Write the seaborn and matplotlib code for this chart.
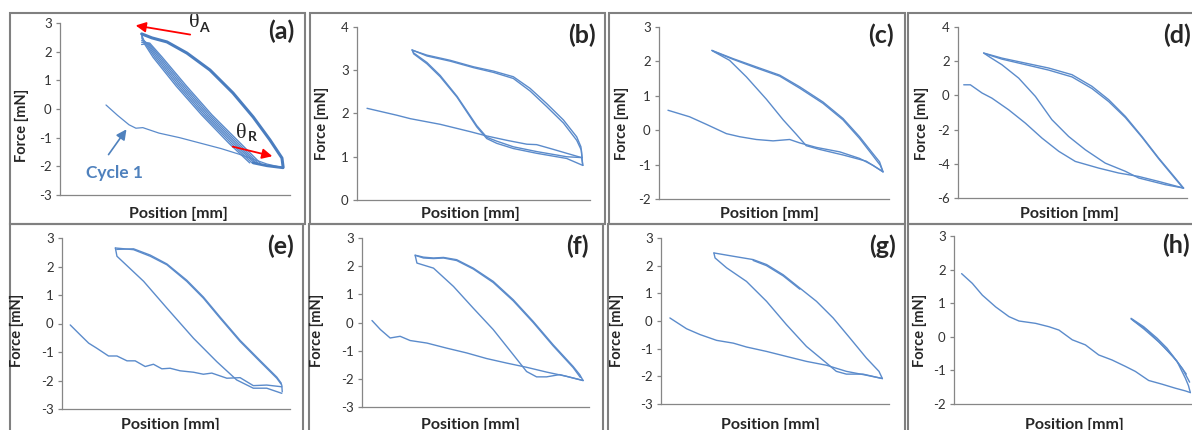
"""Force vs position hysteresis loops, panels (a)-(h)."""
import matplotlib

matplotlib.use("Agg")
import matplotlib.pyplot as plt
import pandas as pd
import seaborn as sns
from matplotlib.patches import Rectangle

# --- data (position is in relative units 0..1, force in mN) -----------------
# (a)
A_APP_X = [0.20, 0.25, 0.30, 0.33, 0.36, 0.43, 0.52, 0.61, 0.70, 0.78, 0.84, 0.90, 0.97]
A_APP_Y = [0.14, -0.22, -0.55, -0.67, -0.65, -0.84, -1.00, -1.19, -1.38, -1.58, -1.75, -1.92, -2.05]
A_UP_X = [0.355, 0.40, 0.465, 0.552, 0.652, 0.752, 0.840, 0.913, 0.965, 0.970]
A_UP_Y = [2.62, 2.48, 2.34, 1.95, 1.36, 0.56, -0.28, -1.08, -1.71, -2.02]
A_BOT_X = [0.97, 0.90, 0.84]
A_BOT_Y = [-2.05, -1.98, -1.88]
A_DIAG_Y = [-1.88, -1.20, -0.20, 0.80, 1.80, 2.30]
A_DIAG1_X = [0.825, 0.735, 0.615, 0.505, 0.405, 0.365]
A_DIAG2_X = [0.835, 0.745, 0.624, 0.514, 0.413, 0.370]
A_DIAG3_X = [0.845, 0.755, 0.633, 0.523, 0.421, 0.375]
A_DIAG4_X = [0.852, 0.765, 0.642, 0.532, 0.429, 0.380]
A_DIAG5_X = [0.860, 0.775, 0.651, 0.541, 0.437, 0.385]
A_DIAG6_X = [0.870, 0.785, 0.660, 0.550, 0.445, 0.390]
A_TOPS_Y = [2.62, 2.55, 2.48, 2.40, 2.33, 2.25]

# (b)
B_APP_X = [0.043, 0.171, 0.229, 0.357, 0.486, 0.557, 0.643, 0.729, 0.771, 0.843, 0.900, 0.964, 0.969]
B_APP_Y = [2.12, 1.96, 1.88, 1.75, 1.58, 1.48, 1.38, 1.29, 1.28, 1.17, 1.08, 0.98, 0.80]
B_RET_X = [0.969, 0.900, 0.771, 0.671, 0.600, 0.557, 0.514, 0.429, 0.357, 0.300, 0.243, 0.239]
B_RET_Y = [0.80, 0.96, 1.08, 1.19, 1.31, 1.42, 1.69, 2.38, 2.85, 3.15, 3.38, 3.46]
B_UP_X = [0.239, 0.300, 0.400, 0.500, 0.586, 0.671, 0.743, 0.814, 0.886, 0.943, 0.961, 0.969]
B_UP_Y = [3.46, 3.35, 3.23, 3.08, 2.98, 2.85, 2.58, 2.23, 1.85, 1.46, 1.23, 0.80]
B_RET2_X = [0.966, 0.900, 0.771, 0.671, 0.600, 0.557, 0.514, 0.429, 0.357, 0.300, 0.243, 0.236]
B_RET2_Y = [0.98, 1.00, 1.12, 1.23, 1.36, 1.45, 1.72, 2.40, 2.88, 3.18, 3.40, 3.47]
B_UP2_X = [0.236, 0.300, 0.400, 0.500, 0.586, 0.671, 0.743, 0.814, 0.886, 0.943, 0.963, 0.966]
B_UP2_Y = [3.47, 3.33, 3.21, 3.06, 2.95, 2.81, 2.52, 2.16, 1.78, 1.38, 1.15, 0.98]

# (c)
C_APP_X = [0.039, 0.133, 0.206, 0.293, 0.351, 0.423, 0.496, 0.532, 0.568, 0.612, 0.684, 0.786, 0.872, 0.930, 0.974]
C_APP_Y = [0.58, 0.39, 0.17, -0.10, -0.19, -0.27, -0.31, -0.29, -0.27, -0.37, -0.50, -0.63, -0.82, -1.02, -1.21]
C_RET_X = [0.974, 0.901, 0.800, 0.699, 0.640, 0.597, 0.540, 0.467, 0.380, 0.307, 0.242, 0.230]
C_RET_Y = [-1.21, -0.90, -0.72, -0.56, -0.45, -0.12, 0.30, 0.90, 1.55, 2.03, 2.27, 2.32]
C_UP_X = [0.230, 0.322, 0.423, 0.525, 0.612, 0.713, 0.800, 0.872, 0.930, 0.959, 0.974]
C_UP_Y = [2.32, 2.08, 1.84, 1.60, 1.26, 0.82, 0.34, -0.19, -0.68, -0.92, -1.21]
C_UP2_X = [0.235, 0.322, 0.423, 0.525, 0.612, 0.713, 0.800, 0.872, 0.930, 0.962, 0.972]
C_UP2_Y = [2.30, 2.06, 1.81, 1.57, 1.22, 0.78, 0.30, -0.24, -0.74, -1.02, -1.18]

# (d)
D_APP_X = [0.025, 0.054, 0.105, 0.148, 0.221, 0.294, 0.367, 0.440, 0.512, 0.614, 0.702, 0.789, 0.876, 0.985]
D_APP_Y = [0.62, 0.62, 0.14, -0.16, -0.84, -1.62, -2.50, -3.27, -3.86, -4.25, -4.54, -4.74, -5.03, -5.42]
D_RET_X = [0.985, 0.905, 0.789, 0.731, 0.643, 0.556, 0.483, 0.410, 0.338, 0.265, 0.192, 0.134, 0.112]
D_RET_Y = [-5.42, -5.22, -4.83, -4.44, -3.96, -3.18, -2.40, -1.42, -0.06, 1.01, 1.79, 2.28, 2.48]
D_UP_X = [0.112, 0.192, 0.294, 0.396, 0.498, 0.585, 0.658, 0.731, 0.803, 0.876, 0.949, 0.985]
D_UP_Y = [2.48, 2.18, 1.89, 1.60, 1.21, 0.53, -0.25, -1.23, -2.40, -3.66, -4.83, -5.42]
D_UP2_X = [0.118, 0.192, 0.294, 0.396, 0.498, 0.585, 0.658, 0.731, 0.803, 0.876, 0.949, 0.982]
D_UP2_Y = [2.44, 2.12, 1.80, 1.48, 1.08, 0.40, -0.36, -1.30, -2.44, -3.70, -4.88, -5.40]

# (e)
E_APP_X = [0.036, 0.080, 0.117, 0.153, 0.204, 0.241, 0.285, 0.321, 0.365, 0.401, 0.438, 0.474,
           0.518, 0.577, 0.620, 0.657, 0.723, 0.781, 0.839, 0.898, 0.964]
E_APP_Y = [-0.05, -0.40, -0.69, -0.87, -1.14, -1.14, -1.31, -1.31, -1.51, -1.43, -1.59, -1.57,
           -1.66, -1.71, -1.78, -1.74, -1.92, -1.90, -2.18, -2.16, -2.22]
E_RET_X = [0.964, 0.898, 0.839, 0.766, 0.679, 0.577, 0.460, 0.358, 0.241, 0.234]
E_RET_Y = [-2.45, -2.27, -2.27, -1.98, -1.34, -0.52, 0.54, 1.48, 2.36, 2.65]
E_UP_X = [0.234, 0.314, 0.387, 0.460, 0.547, 0.620, 0.693, 0.781, 0.869, 0.942, 0.964, 0.966]
E_UP_Y = [2.65, 2.59, 2.36, 2.06, 1.48, 0.89, 0.19, -0.63, -1.34, -1.92, -2.16, -2.40]
E_UP2_X = [0.240, 0.314, 0.387, 0.460, 0.547, 0.620, 0.693, 0.781, 0.869, 0.942, 0.962]
E_UP2_Y = [2.60, 2.62, 2.40, 2.09, 1.52, 0.93, 0.23, -0.59, -1.30, -1.88, -2.10]

# (f)
F_APP_X = [0.044, 0.081, 0.124, 0.168, 0.212, 0.286, 0.373, 0.461, 0.549, 0.637, 0.725, 0.813, 0.900, 0.974]
F_APP_Y = [0.07, -0.25, -0.55, -0.49, -0.64, -0.73, -0.91, -1.08, -1.28, -1.44, -1.59, -1.76, -1.91, -2.06]
F_RET_X = [0.974, 0.871, 0.813, 0.769, 0.725, 0.666, 0.578, 0.490, 0.403, 0.315, 0.242, 0.234]
F_RET_Y = [-2.06, -1.85, -1.93, -1.93, -1.74, -1.14, -0.25, 0.51, 1.28, 1.93, 2.11, 2.39]
F_UP_X = [0.234, 0.271, 0.315, 0.359, 0.417, 0.490, 0.578, 0.666, 0.754, 0.842, 0.930, 0.959, 0.974]
F_UP_Y = [2.39, 2.32, 2.29, 2.31, 2.23, 1.93, 1.46, 0.81, 0.04, -0.79, -1.56, -1.85, -2.06]
F_UP2_X = [0.240, 0.271, 0.315, 0.359, 0.417, 0.490, 0.578, 0.666, 0.754, 0.842, 0.930, 0.962]
F_UP2_Y = [2.37, 2.29, 2.27, 2.29, 2.20, 1.90, 1.42, 0.77, 0.00, -0.83, -1.60, -1.95]

# (g)
G_APP_X = [0.039, 0.112, 0.171, 0.244, 0.317, 0.375, 0.463, 0.550, 0.638, 0.726, 0.813, 0.901, 0.971]
G_APP_Y = [0.11, -0.28, -0.49, -0.70, -0.80, -0.94, -1.10, -1.28, -1.46, -1.60, -1.82, -1.96, -2.08]
G_RET_X = [0.971, 0.886, 0.813, 0.769, 0.726, 0.638, 0.550, 0.463, 0.375, 0.288, 0.237, 0.232]
G_RET_Y = [-2.08, -1.92, -1.92, -1.82, -1.52, -0.92, -0.13, 0.71, 1.43, 1.92, 2.28, 2.46]
G_UP_X = [0.232, 0.317, 0.404, 0.463, 0.536, 0.609, 0.682, 0.755, 0.828, 0.901, 0.956, 0.971]
G_UP_Y = [2.46, 2.34, 2.22, 2.04, 1.67, 1.19, 0.71, 0.11, -0.61, -1.34, -1.82, -2.08]
G_UP2_X = [0.404, 0.463, 0.536, 0.609]
G_UP2_Y = [2.19, 2.00, 1.63, 1.15]

# (h)
H_APP_X = [0.032, 0.077, 0.119, 0.175, 0.231, 0.273, 0.343, 0.399, 0.441, 0.497, 0.552, 0.608, 0.664,
           0.720, 0.762, 0.818, 0.874, 0.930, 0.972, 0.993]
H_APP_Y = [1.88, 1.59, 1.24, 0.89, 0.60, 0.47, 0.40, 0.30, 0.20, -0.09, -0.24, -0.54, -0.69,
           -0.88, -1.03, -1.30, -1.41, -1.53, -1.61, -1.66]
H_RET_X = [0.993, 0.985, 0.972, 0.937, 0.895, 0.853, 0.797, 0.744]
H_RET_Y = [-1.66, -1.45, -1.23, -0.73, -0.34, -0.04, 0.30, 0.55]
H_UP_X = [0.744, 0.811, 0.881, 0.937, 0.976]
H_UP_Y = [0.53, 0.20, -0.29, -0.73, -1.11]
H_UP2_X = [0.750, 0.800, 0.860, 0.920, 0.960, 0.990]
H_UP2_Y = [0.50, 0.22, -0.15, -0.58, -0.95, -1.35]

PANEL_LABELS = ["(a)", "(b)", "(c)", "(d)", "(e)", "(f)", "(g)", "(h)"]
Y_LIMITS = [(-3, 3), (0, 4), (-2, 3), (-6, 4), (-3, 3), (-3, 3), (-3, 3), (-2, 3)]
Y_STEPS = [1, 1, 1, 2, 1, 1, 1, 1]
# -----------------------------------------------------------------------------

W, H = 1192, 430
LINE = "#5B8BCB"
GRID = "#868686"

sns.set_style("white")
plt.rcParams["font.family"] = ["Lato", "DejaVu Sans"]
plt.rcParams["axes.unicode_minus"] = False

fig = plt.figure(figsize=(W / 100, H / 100), dpi=100)

# panel frames (pixel boxes)
frames = [(10, 13, 305, 224), (310, 13, 605, 224), (609, 13, 905, 224), (908, 13, 1200, 224),
          (10, 224, 303, 440), (309, 224, 603, 440), (608, 224, 905, 440), (908, 224, 1200, 440)]
for x0, y0, x1, y1 in frames:
    fig.add_artist(Rectangle((x0 / W, 1 - y1 / H), (x1 - x0) / W, (y1 - y0) / H,
                             transform=fig.transFigure, fill=False, ec="#808080", lw=1.5))

# axes boxes: left, right, top, bottom (pixels)
boxes = [(60, 290, 23, 195), (357, 590, 27, 200), (659, 889, 27, 199), (958, 1187, 27, 198),
         (62, 290, 238, 409), (362, 589, 238, 407), (661, 889, 238, 404), (954, 1192, 236, 404)]
force_pos = [(22, 125), (322, 123), (622, 123), (922, 123),
             (17, 330), (317, 330), (617, 330), (920, 330)]
pos_pos = [(178, 214), (470, 214), (769, 214), (1069, 214),
           (170, 425), (470, 425), (770, 425), (1074, 425)]
label_pos = [(294, 31), (596, 35), (894, 35), (1191, 35),
             (294, 246), (589, 246), (896, 246), (1190, 245)]


def draw(ax, xs, ys, lw=1.0, color=LINE):
    df = pd.DataFrame({"x": xs, "y": ys})
    sns.lineplot(data=df, x="x", y="y", sort=False, estimator=None, ax=ax,
                 color=color, lw=lw)


axes = []
for i, (l, r, t, b) in enumerate(boxes):
    ax = fig.add_axes([l / W, 1 - b / H, (r - l) / W, (b - t) / H])
    ax.patch.set_alpha(0)
    lo, hi = Y_LIMITS[i]
    ax.set_xlim(0, 1)
    ax.set_ylim(lo, hi)
    ax.set_yticks(range(lo, hi + 1, Y_STEPS[i]))
    ax.set_xticks([])
    for s in ["top", "right"]:
        ax.spines[s].set_visible(False)
    for s in ["left", "bottom"]:
        ax.spines[s].set_color(GRID)
        ax.spines[s].set_linewidth(0.9)
    ax.tick_params(axis="y", length=3, width=0.9, color=GRID, labelsize=9.5,
                   labelcolor="#333333", pad=3, left=True)
    axes.append(ax)
    fig.text(force_pos[i][0] / W, 1 - force_pos[i][1] / H, "Force [mN]", rotation=90,
             ha="center", va="center", fontsize=10.5, fontweight="bold")
    fig.text(pos_pos[i][0] / W, 1 - pos_pos[i][1] / H, "Position [mm]",
             ha="center", va="center", fontsize=11.5, fontweight="bold")
    fig.text(label_pos[i][0] / W, 1 - label_pos[i][1] / H, PANEL_LABELS[i],
             ha="right", va="center", fontsize=18, fontweight="bold")

# (a)
ax = axes[0]
draw(ax, A_APP_X, A_APP_Y, lw=0.9)
for dx, top in zip([A_DIAG1_X, A_DIAG2_X, A_DIAG3_X, A_DIAG4_X, A_DIAG5_X, A_DIAG6_X], A_TOPS_Y):
    draw(ax, dx + [A_UP_X[0]], A_DIAG_Y + [top], lw=1.0)
draw(ax, A_UP_X, A_UP_Y, lw=2.2, color="#4A7DBF")
draw(ax, A_BOT_X, A_BOT_Y, lw=2.0, color="#4A7DBF")

red = dict(arrowstyle="-|>,head_length=0.6,head_width=0.3", color="#FF0000", lw=1.3)
ax.annotate("", xy=(0.317, 2.93), xytext=(0.578, 2.58), arrowprops=red, annotation_clip=False)
ax.annotate("", xy=(0.935, -1.67), xytext=(0.739, -1.29), arrowprops=red, annotation_clip=False)
ax.text(0.584, 3.03, "θ", fontsize=16, family="Liberation Serif", ha="center", va="center",
        clip_on=False)
ax.text(0.627, 2.83, "A", fontsize=10, fontweight="bold", ha="center", va="center",
        clip_on=False)
ax.text(0.79, -0.84, "θ", fontsize=16, family="Liberation Serif", ha="center", va="center")
ax.text(0.835, -0.98, "R", fontsize=10, fontweight="bold", ha="center", va="center")
ax.text(0.235, -2.23, "Cycle 1", fontsize=12.5, fontweight="bold", color="#4F81BD",
        ha="center", va="center")
ax.annotate("", xy=(0.296, -0.63), xytext=(0.204, -1.67),
            arrowprops=dict(arrowstyle="-|>,head_length=0.6,head_width=0.3",
                            color="#4F81BD", lw=1.2))

# (b)-(h)
for ax, segs in zip(axes[1:], [
    [(B_APP_X, B_APP_Y), (B_RET_X, B_RET_Y), (B_UP_X, B_UP_Y), (B_RET2_X, B_RET2_Y), (B_UP2_X, B_UP2_Y)],
    [(C_APP_X, C_APP_Y), (C_RET_X, C_RET_Y), (C_UP_X, C_UP_Y), (C_UP2_X, C_UP2_Y)],
    [(D_APP_X, D_APP_Y), (D_RET_X, D_RET_Y), (D_UP_X, D_UP_Y), (D_UP2_X, D_UP2_Y)],
    [(E_APP_X, E_APP_Y), (E_RET_X, E_RET_Y), (E_UP_X, E_UP_Y), (E_UP2_X, E_UP2_Y)],
    [(F_APP_X, F_APP_Y), (F_RET_X, F_RET_Y), (F_UP_X, F_UP_Y), (F_UP2_X, F_UP2_Y)],
    [(G_APP_X, G_APP_Y), (G_RET_X, G_RET_Y), (G_UP_X, G_UP_Y), (G_UP2_X, G_UP2_Y)],
    [(H_APP_X, H_APP_Y), (H_RET_X, H_RET_Y), (H_UP_X, H_UP_Y), (H_UP2_X, H_UP2_Y)],
]):
    for xs, ys in segs:
        draw(ax, xs, ys, lw=1.0)

for ax in axes:
    ax.set_xlabel("")
    ax.set_ylabel("")

fig.savefig("out.png", dpi=100)
plt.close(fig)
